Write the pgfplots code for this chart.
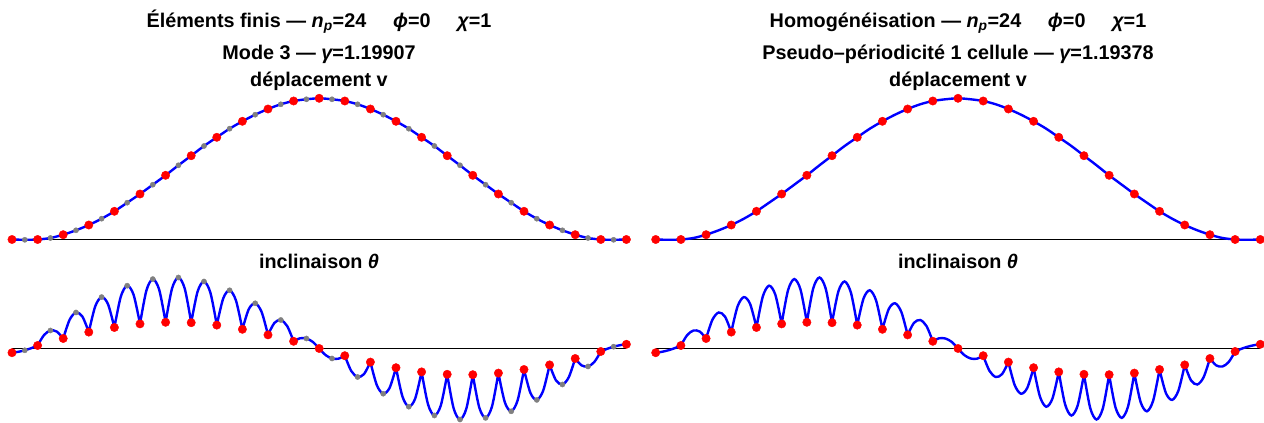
\documentclass[border=0pt]{standalone}
\usepackage{fontspec}
\setmainfont{Liberation Sans}
\usepackage{pgfplots}
\pgfplotsset{compat=1.18}
\usepackage{pgfplotstable}

% deplacement v : noeuds et milieux (unite = 1pt au dessus de la ligne de base)
\pgfplotstableread{
x y
0 0
0.5 -0.3
1 0
1.5 1.5
2 4.8
2.5 9.2
3 14.5
3.5 20.8
4 28.2
4.5 36.8
5 45.5
5.5 54.8
6 64.2
6.5 74.2
7 83.8
7.5 93.5
8 102.2
8.5 110.8
9 118.2
9.5 124.8
10 130.5
10.5 135.2
11 138.5
11.5 140.2
12 141.2
12.5 140.2
13 138.5
13.5 135.2
14 130.5
14.5 124.8
15 118.2
15.5 110.8
16 102.2
16.5 93.5
17 83.8
17.5 74.2
18 64.2
18.5 54.8
19 45.5
19.5 36.8
20 28.2
20.5 20.8
21 14.5
21.5 9.2
22 4.8
22.5 1.5
23 0
23.5 -0.3
24 0
}\vcurve

% inclinaison theta : une arche par cellule, coupees par nan
\pgfplotstableread{
x y
0 -4.2
0.25 -3.3
0.5 -1.8
0.75 0.3
1 3.0
nan nan
1 3.0
1.25 13.4
1.5 18.0
1.75 16.9
2 10.0
nan nan
2 10.0
2.25 28.7
2.5 36.0
2.75 31.9
3 16.4
nan nan
3 16.4
3.25 42.1
3.5 51.4
3.75 44.4
4 21.0
nan nan
4 21.0
4.25 51.9
4.5 62.8
4.75 53.7
5 24.6
nan nan
5 24.6
5.25 58.0
5.5 69.4
5.75 58.8
6 26.2
nan nan
6 26.2
6.25 59.9
6.5 71.0
6.75 59.7
7 25.8
nan nan
7 25.8
7.25 57.0
7.5 67.0
7.75 55.8
8 23.4
nan nan
8 23.4
8.25 50.0
8.5 58.2
8.75 47.9
9 19.2
nan nan
9 19.2
9.25 39.4
9.5 45.2
9.75 36.6
10 13.6
nan nan
10 13.6
10.25 25.6
10.5 28.5
10.75 22.4
11 7.2
nan nan
11 7.2
11.25 10.2
11.5 10.0
11.75 6.6
12 0
nan nan
12 0
12.25 -6.6
12.5 -10.0
12.75 -10.2
13 -7.2
nan nan
13 -7.2
13.25 -22.4
13.5 -28.5
13.75 -25.6
14 -13.6
nan nan
14 -13.6
14.25 -36.6
14.5 -45.2
14.75 -39.4
15 -19.2
nan nan
15 -19.2
15.25 -47.9
15.5 -58.2
15.75 -50.0
16 -23.4
nan nan
16 -23.4
16.25 -55.8
16.5 -67.0
16.75 -57.0
17 -25.8
nan nan
17 -25.8
17.25 -59.7
17.5 -71.0
17.75 -59.9
18 -26.2
nan nan
18 -26.2
18.25 -58.8
18.5 -69.4
18.75 -58.0
19 -24.6
nan nan
19 -24.6
19.25 -53.7
19.5 -62.8
19.75 -51.9
20 -21.0
nan nan
20 -21.0
20.25 -44.4
20.5 -51.4
20.75 -42.1
21 -16.4
nan nan
21 -16.4
21.25 -31.9
21.5 -36.0
21.75 -28.7
22 -10.0
nan nan
22 -10.0
22.25 -16.9
22.5 -18.0
22.75 -13.4
23 -3.0
nan nan
23 -3.0
23.25 -0.3
23.5 1.8
23.75 3.3
24 4.2
}\tcurve

\pgfplotstableread{
x v t
0 0 -4.2
1 0 3.0
2 4.8 10.0
3 14.5 16.4
4 28.2 21.0
5 45.5 24.6
6 64.2 26.2
7 83.8 25.8
8 102.2 23.4
9 118.2 19.2
10 130.5 13.6
11 138.5 7.2
12 141.2 0
13 138.5 -7.2
14 130.5 -13.6
15 118.2 -19.2
16 102.2 -23.4
17 83.8 -25.8
18 64.2 -26.2
19 45.5 -24.6
20 28.2 -21.0
21 14.5 -16.4
22 4.8 -10.0
23 0 -3.0
24 0 4.2
}\nodes

\pgfplotstableread{
x v t
0.5 -0.3 -1.8
1.5 1.5 18.0
2.5 9.2 36.0
3.5 20.8 51.4
4.5 36.8 62.8
5.5 54.8 69.4
6.5 74.2 71.0
7.5 93.5 67.0
8.5 110.8 58.2
9.5 124.8 45.2
10.5 135.2 28.5
11.5 140.2 10.0
12.5 140.2 -10.0
13.5 135.2 -28.5
14.5 124.8 -45.2
15.5 110.8 -58.2
16.5 93.5 -67.0
17.5 74.2 -71.0
18.5 54.8 -69.4
19.5 36.8 -62.8
20.5 20.8 -51.4
21.5 9.2 -36.0
22.5 1.5 -18.0
23.5 -0.3 1.8
}\mids

\pgfplotsset{
  panel/.style={scale only axis, axis lines=none, ticks=none, clip=false,
    xmin=0, xmax=24, anchor=south west},
  vpanel/.style={panel, ymin=0, ymax=150, height=150pt},
  tpanel/.style={panel, ymin=-75, ymax=75, height=150pt, unbounded coords=jump},
  courbe/.style={blue, line width=2.4pt, smooth, no markers},
  base/.style={black, line width=0.9pt, no markers},
  noeud/.style={only marks, mark=*, mark size=4.2pt, color=red},
  milieu/.style={only marks, mark=*, mark size=2.6pt, color=gray},
}

\newcommand{\titre}{\fontsize{19.8}{24}\selectfont\bfseries}

\begin{document}
\begin{tikzpicture}

% ---- Elements finis : deplacement
\begin{axis}[vpanel, width=614.4pt, at={(12pt,183.5pt)}]
\addplot[base] coordinates {(0,0) (24,0)};
\addplot[courbe] table[x=x, y=y] {\vcurve};
\addplot[milieu] table[x=x, y=v] {\mids};
\addplot[noeud] table[x=x, y=v] {\nodes};
\end{axis}

% ---- Elements finis : inclinaison
\begin{axis}[tpanel, width=614.4pt, at={(12pt,-0.5pt)}]
\addplot[base] coordinates {(0,0) (24,0)};
\addplot[courbe] table[x=x, y=y] {\tcurve};
\addplot[milieu] table[x=x, y=t] {\mids};
\addplot[noeud] table[x=x, y=t] {\nodes};
\end{axis}

% ---- Homogeneisation : deplacement
\begin{axis}[vpanel, width=604.6pt, at={(655.7pt,183.5pt)}]
\addplot[base] coordinates {(0,0) (24,0)};
\addplot[courbe] table[x=x, y=y] {\vcurve};
\addplot[noeud] table[x=x, y=v] {\nodes};
\end{axis}

% ---- Homogeneisation : inclinaison
\begin{axis}[tpanel, width=604.6pt, at={(655.7pt,-0.5pt)}]
\addplot[base] coordinates {(0,0) (24,0)};
\addplot[courbe] table[x=x, y=y] {\tcurve};
\addplot[noeud] table[x=x, y=t] {\nodes};
\end{axis}

\begin{scope}[every node/.style={anchor=base, inner sep=0pt, font=\titre}]
\node at (319pt,395.5pt) {Éléments finis — {\itshape n}\textsubscript{\itshape p}=24\hspace{1.35em}{\itshape ϕ}=0\hspace{1.35em}{\itshape χ}=1};
\node at (319pt,363pt) {Mode 3 — {\itshape γ}=1.19907};
\node at (319pt,336.5pt) {déplacement v};
\node at (319pt,154.5pt) {inclinaison {\itshape θ}};
\node at (958pt,395.5pt) {Homogénéisation — {\itshape n}\textsubscript{\itshape p}=24\hspace{1.35em}{\itshape ϕ}=0\hspace{1.35em}{\itshape χ}=1};
\node at (958pt,363pt) {Pseudo–périodicité 1 cellule — {\itshape γ}=1.19378};
\node at (958pt,336.5pt) {déplacement v};
\node at (958pt,154.5pt) {inclinaison {\itshape θ}};
\end{scope}

\pgfresetboundingbox
\useasboundingbox (0,0) rectangle (1264pt,423pt);
\end{tikzpicture}
\end{document}
